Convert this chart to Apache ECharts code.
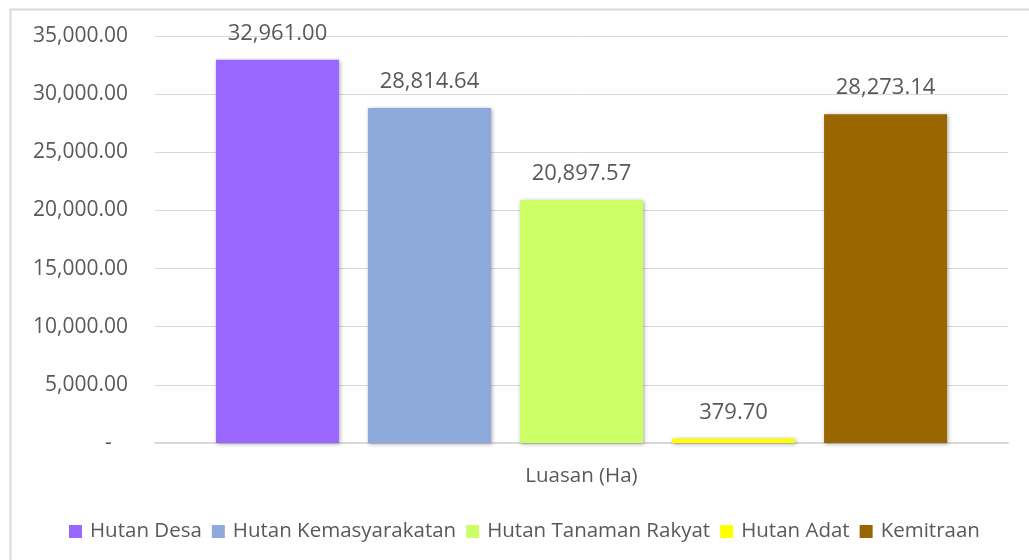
<!DOCTYPE html>
<html>
<head>
<meta charset="utf-8">
<script src="https://cdn.jsdelivr.net/npm/echarts@6/dist/echarts.min.js"></script>
<style>
  html, body { margin: 0; padding: 0; background: #fff; }
  #chart { width: 1029px; height: 560px; }
</style>
</head>
<body>
<div id="chart"></div>
<script>
// kategori & data luasan per skema
const categories = ['Luasan (Ha)'];
const seriesNames = ['Hutan Desa', 'Hutan Kemasyarakatan', 'Hutan Tanaman Rakyat', 'Hutan Adat', 'Kemitraan'];
const seriesValues = [32961.00, 28814.64, 20897.57, 379.70, 28273.14];
const seriesColors = ['#9966FF', '#8EA9DB', '#CCFF66', '#FFFF00', '#996600'];
const yTicks = [0, 5000, 10000, 15000, 20000, 25000, 30000, 35000];

const FONT = 'Open Sans';
const TEXT = '#595959';

function fmt(v) {
  if (v === 0) return '-   ';
  return v.toLocaleString('en-US', {minimumFractionDigits: 2, maximumFractionDigits: 2});
}

const chart = echarts.init(document.getElementById('chart'));

const series = seriesNames.map(function (name, i) {
  return {
    name: name,
    type: 'bar',
    data: [seriesValues[i]],
    barWidth: 123,
    barGap: '23.6%',
    itemStyle: {
      color: seriesColors[i],
      shadowBlur: 4,
      shadowColor: 'rgba(0,0,0,0.35)',
      shadowOffsetX: 1,
      shadowOffsetY: 1
    },
    label: {
      show: true,
      position: 'top',
      distance: 15,
      color: TEXT,
      fontFamily: FONT,
      fontSize: 22,
      formatter: function (p) { return fmt(p.value); }
    }
  };
});

chart.setOption({
  animation: false,
  textStyle: {fontFamily: FONT},
  graphic: [{
    type: 'rect',
    left: 8, top: 7,
    shape: {width: 1100, height: 600},
    style: {fill: 'none', stroke: '#d9d9d9', lineWidth: 2},
    silent: true
  }],
  grid: {left: 155, right: 21, top: 36, bottom: 117},
  legend: {
    top: 516,
    left: 64,
    itemWidth: 13,
    itemHeight: 13,
    itemGap: 10,
    icon: 'rect',
    textStyle: {color: TEXT, fontFamily: FONT, fontSize: 20.5, padding: [0, 0, 0, 3]},
    data: seriesNames
  },
  xAxis: {
    type: 'category',
    data: categories,
    axisLine: {lineStyle: {color: '#d9d9d9', width: 2}},
    axisTick: {show: false},
    axisLabel: {color: TEXT, fontFamily: FONT, fontSize: 20.5, margin: 23}
  },
  yAxis: {
    type: 'value',
    min: yTicks[0],
    max: yTicks[yTicks.length - 1],
    interval: yTicks[1] - yTicks[0],
    axisLine: {show: false},
    axisTick: {show: false},
    splitLine: {lineStyle: {color: '#d9d9d9', width: 1}},
    axisLabel: {color: TEXT, fontFamily: FONT, fontSize: 21, margin: 27, formatter: fmt}
  },
  series: series
});
</script>
</body>
</html>
